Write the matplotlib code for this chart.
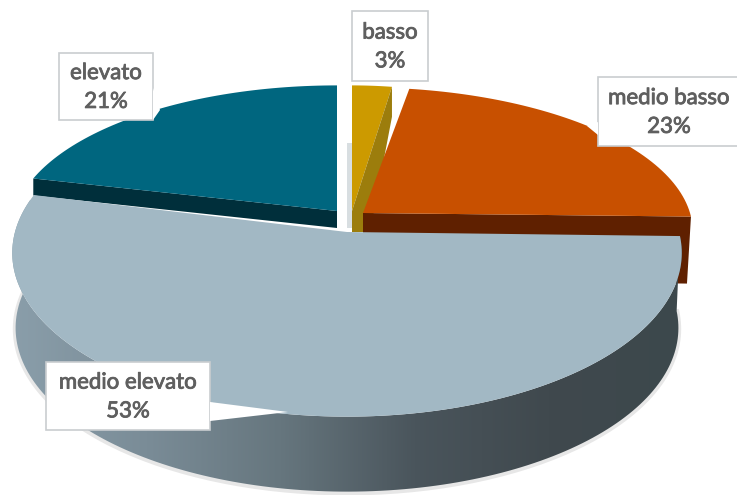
import numpy as np
import matplotlib
matplotlib.use("Agg")
import matplotlib.pyplot as plt
import matplotlib.patheffects as pe
from matplotlib.colors import LinearSegmentedColormap
from matplotlib.patches import Polygon, Rectangle

# slices, clockwise from 12 o'clock (unrounded estimates, labels show them rounded)
categories = ["basso", "medio basso", "medio elevato", "elevato"]
values = [2.55, 22.85, 53.4, 21.2]
top_colors = ["#cc9a00", "#c85000", "#a2b8c4", "#00667f"]
cut_colors = ["#9c7d0c", "#5f2000", "#a2b8c4", "#002f3b"]

# where each slice's tip ends up once exploded, and how the back ones shrink
tip_x = [352, 363, 347, 337]
tip_y = [211, 213, 232, 211]
scale_x = [0.85, 0.985, 1.0, 0.97]
scale_y = [0.88, 0.88, 1.0, 0.88]

# label boxes
box_left = [352, 598, 46, 59]
box_top = [11, 77, 362, 53]
box_right = [428, 740, 210, 153]
box_bottom = [81, 146, 430, 120]

RX, RY, K = 332, 161, 0.128
DEPTH = 75

fractions = np.array(values) / sum(values)
edges = np.concatenate([[0], np.cumsum(fractions)]) * 2 * np.pi


def proj(theta, i, dy=0, shrink=1.0):
    # circle seen in perspective, the back is smaller than the front
    u, v = np.sin(theta), np.cos(theta)
    w = 1 + K * v
    return (tip_x[i] + RX * scale_x[i] * shrink * u / w,
            tip_y[i] + dy - RY * scale_y[i] * v / w)


fig = plt.figure(figsize=(7.37, 4.95), dpi=100)
ax = fig.add_axes([0, 0, 1, 1])

# gray strip behind the gap
ax.add_patch(Rectangle((347, 143), 5, 85, color="#d8dee1", lw=0, zorder=1))

# basso
t = np.linspace(edges[0], edges[1], 20)
x, y = proj(t, 0)
ax.add_patch(Polygon(np.c_[np.r_[tip_x[0], x], np.r_[tip_y[0], y]], color=top_colors[0], lw=0, zorder=2))
ax.add_patch(Polygon([(x[-1], y[-1]), (tip_x[0], tip_y[0]), (tip_x[0], 232), (tip_x[0] + 18, 232), (x[-1], y[-1] + 30)],
                     color=cut_colors[0], lw=0, zorder=3))

# medio basso
t = np.linspace(edges[1], edges[2], 60)
x, y = proj(t, 1)
ax.add_patch(Polygon([(x[-1], y[-1]), (x[-1] - 4, y[-1] + 67), (tip_x[1], tip_y[1] + 67), (tip_x[1], tip_y[1])],
                     color=cut_colors[1], lw=0, zorder=3))
ax.add_patch(Polygon(np.c_[np.r_[tip_x[1], x], np.r_[tip_y[1], y]], color=top_colors[1], lw=0, zorder=4))

# elevato
t = np.linspace(edges[3], edges[4], 60)
x, y = proj(t, 3)
ax.add_patch(Polygon([(x[0], y[0]), (x[0], y[0] + 17), (tip_x[3], tip_y[3] + 17), (tip_x[3], tip_y[3])],
                     color=cut_colors[3], lw=0, zorder=3))
ax.add_patch(Polygon(np.c_[np.r_[tip_x[3], x], np.r_[tip_y[3], y]], color=top_colors[3], lw=0, zorder=4))

# medio elevato: wall with a gradient, then the top
t = np.linspace(edges[2], edges[3], 160)
x, y = proj(t, 2)
xb, yb = proj(t, 2, dy=DEPTH, shrink=0.99)
keep = yb > 262
ax.plot(xb[keep], yb[keep] + 1, color="#888888", alpha=0.2, lw=4, zorder=4)
wall = Polygon(np.c_[np.r_[x, xb[::-1]], np.r_[y, yb[::-1]]], transform=ax.transData, fc="none", lw=0)
ax.add_patch(wall)
cmap = LinearSegmentedColormap.from_list("wall", ["#8a9eaa", "#7a8c97", "#66767e", "#4a555c", "#40494e", "#3c484c"])
im = ax.imshow(np.linspace(0, 1, 256).reshape(1, -1), cmap=cmap, aspect="auto", extent=(12, 684, 500, 200), zorder=5)
im.set_clip_path(wall)
ax.add_patch(Polygon(np.c_[np.r_[tip_x[2], x], np.r_[tip_y[2], y]], color=top_colors[2], lw=0, zorder=6))

# callouts
pointers = [
    [],
    [(598, 146), (598, 122), (587, 126), (598, 135)],
    [(210, 402), (288, 412), (210, 421)],
    [(153, 88), (160, 110), (153, 120)],
]
for i, name in enumerate(categories):
    l, t_, r, b = box_left[i], box_top[i], box_right[i], box_bottom[i]
    ax.add_patch(Rectangle((l, t_), r - l, b - t_, fc="white", ec="#c9cdd0", lw=1.2, zorder=7))
    if pointers[i]:
        ax.add_patch(Polygon(pointers[i], fc="white", ec="none", zorder=8))
    ax.text((l + r) / 2, (t_ + b) / 2 + 1, f"{name}\n{round(values[i])}%", ha="center", va="center",
            fontsize=16, family="Lato", color="#5f5f5f", linespacing=1.55, zorder=9,
            path_effects=[pe.withStroke(linewidth=0.6, foreground="#5f5f5f")])

ax.set_xlim(0, 737)
ax.set_ylim(495, 0)
ax.axis("off")
fig.savefig("out.png", dpi=100)
